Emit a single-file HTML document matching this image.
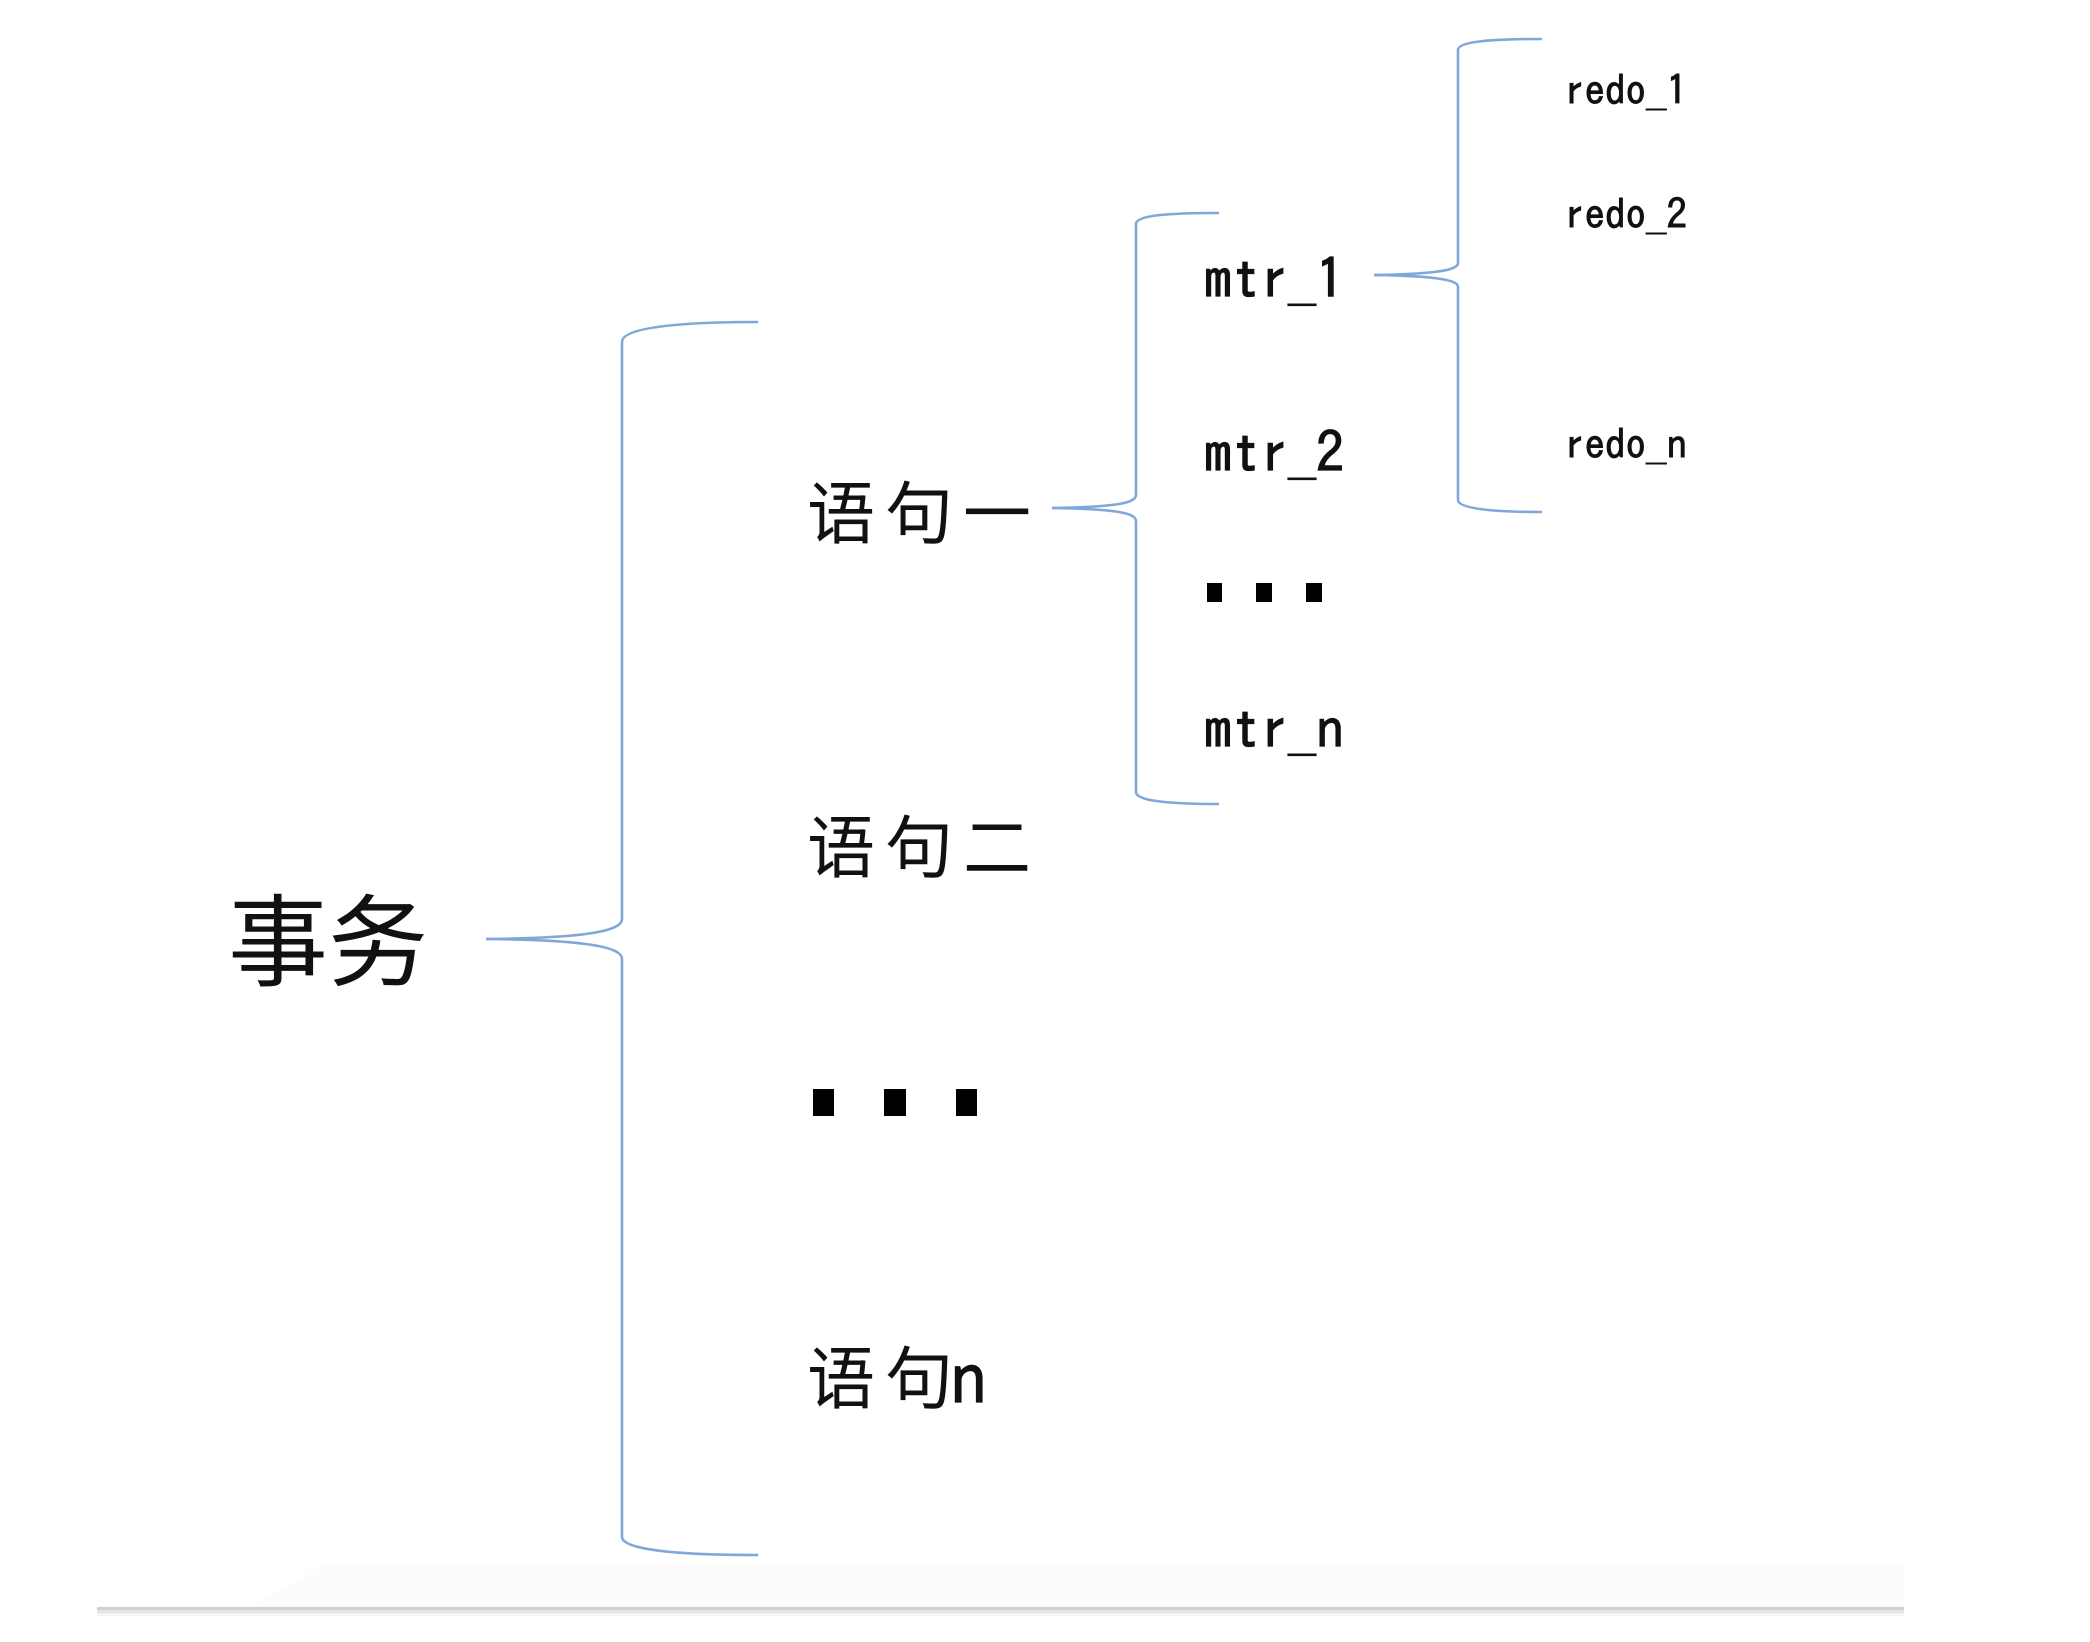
<!DOCTYPE html>
<html>
<head>
<meta charset="utf-8">
<style>
  html, body { margin: 0; padding: 0; background: #ffffff; }
  body { width: 2090px; height: 1642px; overflow: hidden; }
  svg { display: block; }
  .cjk { font-family: "Liberation Sans", "Noto Sans CJK SC", "WenQuanYi Zen Hei", sans-serif; fill: #111; }
  .lat { font-family: "IPAGothic", "Liberation Mono", monospace; fill: #111; stroke: #111; }
  .br { fill: none; stroke: #7fa8d9; stroke-width: 2.6; stroke-linecap: butt; }
</style>
</head>
<body>
<svg width="2090" height="1642" viewBox="0 0 2090 1642" xmlns="http://www.w3.org/2000/svg">
  <rect x="0" y="0" width="2090" height="1642" fill="#ffffff"/>

  <!-- faint shadow area near bottom -->
  <polygon points="330,1562 1904,1562 1904,1607 250,1607" fill="#fcfcfc"/>
  <!-- bottom grey rule -->
  <rect x="97" y="1607" width="1807" height="3" fill="#d0d0d0"/>
  <rect x="97" y="1610" width="1807" height="3" fill="#e5e5e5"/>
  <rect x="97" y="1613" width="1807" height="3" fill="#f3f3f3"/>

  <!-- Main brace -->
  <path class="br" d="M758,322 C690,322 622,326 622,342 L622,919 C622,932 580,938 486,939"/>
  <path class="br" d="M486,939 C580,940 622,946 622,959 L622,1537 C622,1550 680,1555 758,1555"/>

  <!-- mtr brace -->
  <path class="br" d="M1219,213 C1170,213 1136,215 1136,224 L1136,495 C1136,504 1110,507 1052,508"/>
  <path class="br" d="M1052,508 C1110,509 1136,512 1136,521 L1136,792 C1136,801 1170,804 1219,804"/>

  <!-- redo brace -->
  <path class="br" d="M1542,39 C1495,39 1458,41 1458,50 L1458,263 C1458,271 1430,274 1374,275"/>
  <path class="br" d="M1374,275 C1430,276 1458,279 1458,287 L1458,500 C1458,509 1495,512 1542,512"/>

  <!-- 事务 -->
  <text class="cjk" x="228" y="978" font-size="100">事务</text>

  <!-- statements -->
  <text class="cjk" x="807" y="538" font-size="68" letter-spacing="10">语句一</text>
  <text class="cjk" x="807" y="872" font-size="68" letter-spacing="10">语句二</text>
  <text class="cjk" x="807" y="1403" font-size="68" letter-spacing="10">语句</text>
  <text class="lat" x="950" y="1406" font-size="74" stroke-width="1.2">n</text>

  <!-- big dots -->
  <rect x="813" y="1089" width="21" height="27" fill="#000"/>
  <rect x="884" y="1089" width="22" height="27" fill="#000"/>
  <rect x="956" y="1089" width="21" height="27" fill="#000"/>

  <!-- mtr labels -->
  <text class="lat" x="1204" y="299" font-size="56" stroke-width="1.2">mtr_1</text>
  <text class="lat" x="1204" y="473" font-size="56" stroke-width="1.2">mtr_2</text>
  <text class="lat" x="1204" y="749" font-size="56" stroke-width="1.2">mtr_n</text>

  <!-- small dots -->
  <rect x="1207" y="583" width="15" height="19" fill="#000"/>
  <rect x="1256" y="583" width="16" height="19" fill="#000"/>
  <rect x="1306" y="583" width="16" height="19" fill="#000"/>

  <!-- redo labels -->
  <text class="lat" x="1564" y="105" font-size="41" stroke-width="0.9">redo_1</text>
  <text class="lat" x="1564" y="229" font-size="41" stroke-width="0.9">redo_2</text>
  <text class="lat" x="1564" y="459" font-size="41" stroke-width="0.9">redo_n</text>
</svg>
</body>
</html>
